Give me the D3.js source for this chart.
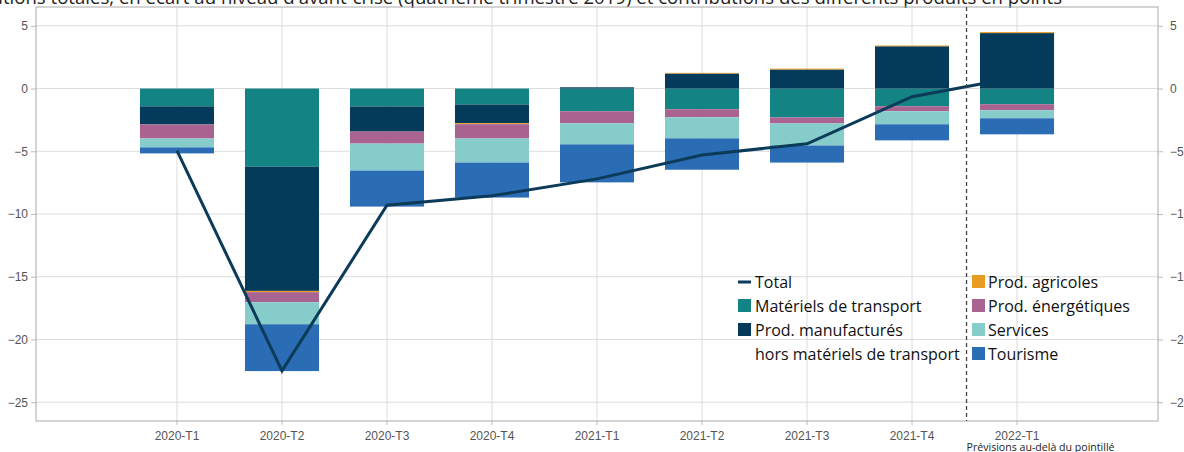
<!DOCTYPE html>
<html lang="fr">
<head>
    <meta charset="UTF-8">
    <title>Exportations totales</title>
    <script src="https://d3js.org/d3.v7.min.js"></script>
    <style>
        body, html { margin: 0; background: #fff; }
        svg { display: block; font-family: 'Open Sans', sans-serif; }
        .tick text { fill: #555; font-size: 12px; }
        .legend text { fill: #111; font-size: 16px; }
    </style>
</head>
<body>
    <svg width="1184" height="452"></svg>
    <script>
        const categories = ["2020-T1", "2020-T2", "2020-T3", "2020-T4", "2021-T1", "2021-T2", "2021-T3", "2021-T4", "2022-T1"];
        const transport    = [-1.42, -6.23, -1.43, -1.27, -1.81, -1.65, -2.30, -1.41, -1.25];
        const manufactures = [-1.44, -9.90, -2.00, -1.49,  0.10,  1.20,  1.52,  3.37,  4.42];
        const agricoles    = [ 0.00, -0.10,  0.00, -0.08,  0.00,  0.05,  0.07,  0.06,  0.08];
        const energetiques = [-1.12, -0.80, -0.96, -1.14, -0.96, -0.64, -0.48, -0.40, -0.48];
        const services     = [-0.71, -1.76, -2.15, -1.92, -1.68, -1.68, -1.76, -1.04, -0.64];
        const tourisme     = [-0.48, -3.73, -2.87, -2.79, -3.03, -2.50, -1.36, -1.28, -1.28];
        const total        = [-4.95, -22.5, -9.30, -8.55, -7.20, -5.30, -4.40, -0.65, 0.90];
        const yTicks = [5, 0, -5, -10, -15, -20, -25];
        const forecastFrom = "2022-T1";

        const series = [
            {key: "transport", label: "Matériels de transport", color: "#148383", values: transport},
            {key: "manufactures", label: "Prod. manufacturés", color: "#043a5a", values: manufactures},
            {key: "agricoles", label: "Prod. agricoles", color: "#e89c22", values: agricoles},
            {key: "energetiques", label: "Prod. énergétiques", color: "#a86391", values: energetiques},
            {key: "services", label: "Services", color: "#85cccb", values: services},
            {key: "tourisme", label: "Tourisme", color: "#2a6db5", values: tourisme}
        ];

        const svg = d3.select("svg");
        const mLeft = 36, mRight = 1158, mTop = 7, mBottom = 421;

        const x = d3.scaleBand().domain(categories).range([mLeft, mRight])
            .paddingInner(0.295).paddingOuter(0.99);
        const y = d3.scaleLinear().domain([-26.5, 6.5]).range([mBottom, mTop]);

        // title (cut off at the top in the original)
        svg.append("text")
            .attr("x", 1062).attr("y", 4)
            .attr("text-anchor", "end")
            .attr("font-size", 18.6).attr("fill", "#222")
            .text("Évolution des exportations totales, en écart au niveau d'avant-crise (quatrième trimestre 2019) et contributions des différents produits en points");

        // grid
        svg.append("g").selectAll("line").data(yTicks).join("line")
            .attr("x1", mLeft).attr("x2", mRight)
            .attr("y1", d => y(d)).attr("y2", d => y(d))
            .attr("stroke", "#dcdcdc");
        svg.append("g").selectAll("line").data(categories).join("line")
            .attr("x1", d => x(d) + x.bandwidth() / 2).attr("x2", d => x(d) + x.bandwidth() / 2)
            .attr("y1", mTop).attr("y2", mBottom)
            .attr("stroke", "#dcdcdc");

        // axes
        const yl = svg.append("g").attr("transform", `translate(${mLeft},0)`)
            .call(d3.axisLeft(y).tickValues(yTicks).tickSize(5).tickPadding(3));
        const yr = svg.append("g").attr("transform", `translate(${mRight},0)`)
            .call(d3.axisRight(y).tickValues(yTicks).tickSize(5).tickPadding(7));
        const xa = svg.append("g").attr("transform", `translate(0,${mBottom})`)
            .call(d3.axisBottom(x).tickSize(4).tickPadding(6));
        [yl, yr, xa].forEach(g => {
            g.select(".domain").remove();
            g.selectAll(".tick line").attr("stroke", "#bbb");
        });

        // frame
        svg.append("rect")
            .attr("x", mLeft).attr("y", mTop)
            .attr("width", mRight - mLeft).attr("height", mBottom - mTop)
            .attr("fill", "none").attr("stroke", "#aaa");

        // stacked bars
        const rows = categories.map((c, i) => {
            const r = {cat: c};
            series.forEach(s => r[s.key] = s.values[i]);
            return r;
        });
        const stacked = d3.stack().keys(series.map(s => s.key))
            .offset(d3.stackOffsetDiverging)(rows);

        const drawBars = (g, filter) => g.selectAll("g").data(stacked).join("g")
            .attr("fill", (d, i) => series[i].color)
            .selectAll("rect").data(d => d.filter(p => filter(p.data.cat))).join("rect")
            .attr("x", d => x(d.data.cat))
            .attr("width", x.bandwidth())
            .attr("y", d => y(d[1]))
            .attr("height", d => Math.max(0, y(d[0]) - y(d[1])));

        drawBars(svg.append("g"), c => c !== forecastFrom);

        // total line
        const line = d3.line()
            .x((d, i) => x(categories[i]) + x.bandwidth() / 2)
            .y(d => y(d));
        svg.append("path")
            .datum(total)
            .attr("d", line)
            .attr("fill", "none")
            .attr("stroke", "#0b3b59")
            .attr("stroke-width", 3);

        // forecast bar is drawn over the line
        drawBars(svg.append("g"), c => c === forecastFrom);

        // forecast separator
        const iF = categories.indexOf(forecastFrom);
        const sepX = (x(categories[iF - 1]) + x.bandwidth() + x(forecastFrom)) / 2 + 2;
        svg.append("line")
            .attr("x1", sepX).attr("x2", sepX)
            .attr("y1", mTop).attr("y2", mBottom)
            .attr("stroke", "#444").attr("stroke-width", 1.3)
            .attr("stroke-dasharray", "4,3");
        svg.append("text")
            .attr("x", sepX).attr("y", 451)
            .attr("font-size", 10.6).attr("fill", "#222")
            .text("Prévisions au-delà du pointillé");

        // legend
        const lg = svg.append("g").attr("class", "legend");
        const rowY = [282, 306, 330, 354];
        lg.append("line")
            .attr("x1", 738).attr("x2", 751)
            .attr("y1", rowY[0]).attr("y2", rowY[0])
            .attr("stroke", "#0b3b59").attr("stroke-width", 3);
        lg.append("text").attr("x", 755).attr("y", rowY[0]).attr("dy", "0.35em").text("Total");

        const leftItems = [series[0], series[1]];
        const rightItems = [series[2], series[3], series[4], series[5]];
        leftItems.forEach((s, i) => {
            lg.append("rect").attr("x", 738).attr("y", rowY[i + 1] - 7)
                .attr("width", 13).attr("height", 13).attr("fill", s.color);
            lg.append("text").attr("x", 755).attr("y", rowY[i + 1]).attr("dy", "0.35em").text(s.label);
        });
        lg.append("text").attr("x", 755).attr("y", rowY[3]).attr("dy", "0.35em").text("hors matériels de transport");
        rightItems.forEach((s, i) => {
            lg.append("rect").attr("x", 972).attr("y", rowY[i] - 7)
                .attr("width", 13).attr("height", 13).attr("fill", s.color);
            lg.append("text").attr("x", 988).attr("y", rowY[i]).attr("dy", "0.35em").text(s.label);
        });
    </script>
</body>
</html>
